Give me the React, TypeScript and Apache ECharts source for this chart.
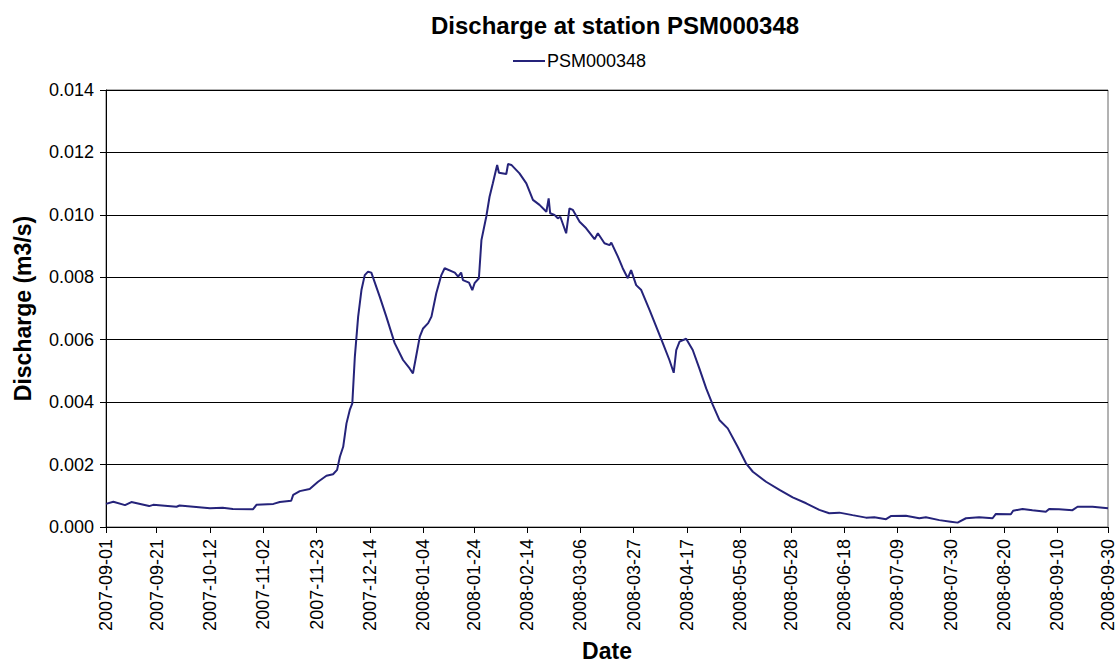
import React, { useEffect, useRef } from "react";
import * as echarts from "echarts";

const START_DATE = "2007-09-01";
const END_DATE = "2008-09-30";
const SERIES_NAME = "PSM000348";
const TITLE = "Discharge at station PSM000348";

const tickLabels = [
  "2007-09-01", "2007-09-21", "2007-10-12", "2007-11-02", "2007-11-23",
  "2007-12-14", "2008-01-04", "2008-01-24", "2008-02-14", "2008-03-06",
  "2008-03-27", "2008-04-17", "2008-05-08", "2008-05-28", "2008-06-18",
  "2008-07-09", "2008-07-30", "2008-08-20", "2008-09-10", "2008-09-30",
];

// days since START_DATE
const dayOffsets = [
  0, 2.9, 7.5, 10, 17, 18.6, 27.8, 29, 41, 46, 50, 58, 59.3, 66, 68.5, 73, 73.8,
  76.4, 80.3, 83.6, 86.9, 89.5, 91.1, 92.2, 93.5, 94.8, 96.1, 97.1, 98.1, 99.4,
  100.7, 102, 103.3, 104.6, 107.9, 110.5, 113.8, 117.1, 119.7, 121, 122.1, 123.7,
  125, 127, 128.3, 130.2, 132.2, 133.5, 137.5, 138.8, 140, 140.7, 143.1, 144.4,
  145.3, 147, 148, 149.9, 151.2, 152.5, 154.2, 154.9, 157.8, 158.5, 159.8, 163,
  165.7, 168.3, 170.9, 173.6, 174.5, 175.1, 176.8, 178.1, 179.1, 181.4, 182.7,
  184, 186.7, 189.3, 192.6, 193.9, 196.5, 198.5, 199.2, 201.8, 203.7, 205.7, 207,
  209, 211, 214.3, 216.9, 219.5, 222.1, 223.8, 224.8, 226.1, 228.7, 231.3, 233.9,
  236.6, 239.2, 241.8, 245.1, 249, 252.3, 255, 260.2, 265.5, 270.7, 276, 281.2,
  285.1, 289.1, 294.3, 299.6, 302.9, 307.5, 309.4, 315.3, 320.6, 323.2, 328.5,
  333, 335.7, 339, 344.2, 349.5, 350.8, 356.7, 357.6, 361.3, 365.2, 370.5, 371.8,
  375.7, 381, 383, 388.9, 395,
];

const discharge = [
  0.00074, 0.00081, 0.0007, 0.0008, 0.00067, 0.00071, 0.00065, 0.00069, 0.0006,
  0.00062, 0.00058, 0.00057, 0.00071, 0.00074, 0.0008, 0.00084, 0.00103, 0.00115,
  0.00122, 0.00145, 0.00164, 0.00169, 0.00183, 0.00225, 0.00257, 0.00332, 0.00375,
  0.00396, 0.00546, 0.00674, 0.00759, 0.00807, 0.00818, 0.00815, 0.00738, 0.00674,
  0.00589, 0.00535, 0.00508, 0.00492, 0.0054, 0.0061, 0.00636, 0.00653, 0.00674,
  0.00749, 0.00807, 0.00829, 0.00815, 0.00802, 0.00815, 0.00791, 0.00783, 0.00759,
  0.00781, 0.00797, 0.00919, 0.00994, 0.01058, 0.01101, 0.0116, 0.01135, 0.01131,
  0.01163, 0.0116, 0.01133, 0.01101, 0.01048, 0.01032, 0.0101, 0.01053, 0.01005,
  0.01, 0.00989, 0.00994, 0.00941, 0.01021, 0.01016, 0.00978, 0.00957, 0.00922,
  0.00941, 0.00909, 0.00903, 0.00911, 0.00866, 0.00829, 0.00797, 0.00823, 0.00775,
  0.00759, 0.00695, 0.00642, 0.00589, 0.00535, 0.00494, 0.00567, 0.00594, 0.00603,
  0.00567, 0.00508, 0.00444, 0.00391, 0.00343, 0.00316, 0.00257, 0.00204, 0.00177,
  0.00145, 0.00119, 0.00095, 0.00076, 0.00055, 0.00044, 0.00046, 0.00038, 0.0003,
  0.00031, 0.00025, 0.00035, 0.00036, 0.00028, 0.00031, 0.00022, 0.00017, 0.00014,
  0.00028, 0.00031, 0.00028, 0.00042, 0.00041, 0.00052, 0.00058, 0.00054, 0.00049,
  0.00058, 0.00057, 0.00054, 0.00065, 0.00065, 0.0006,
];

const DAY_MS = 86400000;
const startMs = Date.parse(START_DATE + "T00:00:00Z");
const toDay = (s: string) => Math.round((Date.parse(s + "T00:00:00Z") - startMs) / DAY_MS);
const dayToLabel = (d: number) => new Date(startMs + Math.round(d) * DAY_MS).toISOString().slice(0, 10);

const FONT = "'Liberation Sans', Arial, sans-serif";
const LINE_COLOR = "#25237a";

export default function App() {
  const ref = useRef<HTMLDivElement>(null);

  useEffect(() => {
    if (!ref.current) return;
    const chart = echarts.init(ref.current, undefined, { renderer: "svg" });
    const tickDays = tickLabels.map(toDay);
    const data = dayOffsets.map((d, i) => [d, discharge[i]]);

    chart.setOption({
      animation: false,
      backgroundColor: "#ffffff",
      textStyle: { fontFamily: FONT },
      title: {
        text: TITLE,
        left: 426,
        top: 8,
        textStyle: { fontFamily: FONT, fontSize: 24, fontWeight: "bold", color: "#000" },
      },
      legend: {
        data: [SERIES_NAME],
        left: 508,
        top: 47,
        icon: "rect",
        itemWidth: 32,
        itemHeight: 2,
        itemGap: 4,
        itemStyle: { color: LINE_COLOR },
        textStyle: { fontFamily: FONT, fontSize: 18, color: "#000", padding: [0, 0, 0, -3] },
      },
      grid: {
        left: 106,
        right: 8,
        top: 90,
        bottom: 141,
        show: true,
        borderColor: "#666",
        borderWidth: 1,
      },
      xAxis: {
        type: "value",
        min: 0,
        max: toDay(END_DATE),
        name: "Date",
        nameLocation: "middle",
        nameGap: 112,
        nameTextStyle: { fontFamily: FONT, fontSize: 23, fontWeight: "bold", color: "#000" },
        axisLine: { show: true, onZero: false, lineStyle: { color: "#000", width: 1 } },
        axisTick: { show: true, length: 6, customValues: tickDays, lineStyle: { color: "#000" } },
        axisLabel: {
          customValues: tickDays,
          rotate: 90,
          margin: 12,
          fontFamily: FONT,
          fontSize: 18,
          color: "#000",
          formatter: (v: number) => dayToLabel(v),
        },
        splitLine: { show: false },
      },
      yAxis: {
        type: "value",
        min: 0,
        max: 0.014,
        interval: 0.002,
        name: "Discharge (m3/s)",
        nameLocation: "middle",
        nameGap: 72,
        nameTextStyle: { fontFamily: FONT, fontSize: 23, fontWeight: "bold", color: "#000" },
        axisLine: { show: true, lineStyle: { color: "#000", width: 1 } },
        axisTick: { show: true, length: 6, lineStyle: { color: "#000" } },
        axisLabel: {
          margin: 12,
          fontFamily: FONT,
          fontSize: 18,
          color: "#000",
          formatter: (v: number) => v.toFixed(3),
        },
        splitLine: { show: true, lineStyle: { color: "#000", width: 1 } },
      },
      series: [
        {
          name: SERIES_NAME,
          type: "line",
          data,
          symbol: "none",
          lineStyle: { color: LINE_COLOR, width: 2 },
          itemStyle: { color: LINE_COLOR },
        },
      ],
    });
    return () => chart.dispose();
  }, []);

  return (
    <div
      ref={ref}
      style={{ position: "fixed", left: 0, top: 0, width: 1117, height: 668, background: "#fff" }}
    />
  );
}
